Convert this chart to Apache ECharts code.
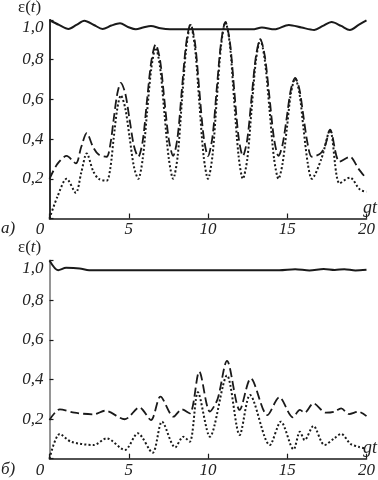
<!DOCTYPE html>
<html><head><meta charset="utf-8">
<script src="https://cdn.jsdelivr.net/npm/echarts@6/dist/echarts.min.js"></script>
<style>html,body{margin:0;padding:0;background:#fff}#c{width:378px;height:480px}</style>
</head><body><div id="c"></div>
<script>
const xTicks = [0, 5, 10, 15, 20];
const yTicks = [0, 0.2, 0.4, 0.6, 0.8, 1.0];
const panelLabels = ['a)', 'б)'];

// panel a
const aSolid = [[0,1.0],[0.6,0.975],[1.2,0.955],[1.7,0.975],[2.2,0.996],[2.8,0.975],[3.35,0.955],[3.9,0.972],[4.45,0.983],[4.95,0.965],[5.45,0.953],[5.9,0.962],[6.4,0.97],[7.0,0.958],[7.6,0.953],[10,0.953],[12.8,0.953],[13.4,0.962],[14.2,0.953],[15.1,0.975],[15.9,0.962],[16.7,0.95],[17.25,0.97],[17.8,0.99],[18.4,0.97],[18.95,0.95],[19.5,0.975],[20,0.998]];
const aDash = [[0,0.20],[0.5,0.275],[1.08,0.315],[1.66,0.278],[2.0,0.36],[2.35,0.43],[2.75,0.36],[3.1,0.322],[3.6,0.311],
  [3.83,0.37],[4.05,0.5],[4.28,0.63],[4.5,0.683],[4.78,0.63],[5.05,0.5],[5.33,0.365],[5.6,0.311],
  [5.88,0.39],[6.15,0.594],[6.43,0.795],[6.7,0.877],[6.98,0.795],[7.25,0.596],[7.53,0.397],[7.8,0.315],
  [8.08,0.41],[8.35,0.648],[8.63,0.885],[8.9,0.98],[9.18,0.885],[9.45,0.648],[9.73,0.41],[10.0,0.315],
  [10.28,0.41],[10.55,0.652],[10.83,0.89],[11.1,0.99],[11.38,0.89],[11.65,0.652],[11.93,0.41],[12.2,0.315],
  [12.48,0.40],[12.75,0.61],[13.03,0.82],[13.3,0.904],[13.58,0.82],[13.88,0.61],[14.17,0.40],[14.45,0.315],
  [14.7,0.37],[14.97,0.51],[15.23,0.65],[15.5,0.708],[15.77,0.65],[16.03,0.51],[16.3,0.37],[16.55,0.311],
  [17.1,0.328],[17.4,0.37],[17.7,0.448],[18.3,0.286],[18.95,0.311],[19.5,0.25],[20,0.2]];
const aDot = [[0,0.0],[0.5,0.11],[1.08,0.2],[1.66,0.13],[2.0,0.23],[2.35,0.328],[2.75,0.24],[3.1,0.2],[3.6,0.19],
  [3.83,0.25],[4.05,0.405],[4.28,0.555],[4.5,0.62],[4.78,0.555],[5.05,0.41],[5.33,0.26],[5.6,0.2],
  [5.88,0.30],[6.15,0.53],[6.43,0.76],[6.7,0.86],[6.98,0.76],[7.25,0.53],[7.53,0.30],[7.8,0.2],
  [8.08,0.31],[8.35,0.588],[8.63,0.86],[8.9,0.975],[9.18,0.86],[9.45,0.588],[9.73,0.31],[10.0,0.2],
  [10.28,0.315],[10.55,0.595],[10.83,0.875],[11.1,0.99],[11.38,0.875],[11.65,0.595],[11.93,0.315],[12.2,0.2],
  [12.48,0.30],[12.75,0.55],[13.03,0.80],[13.3,0.9],[13.58,0.80],[13.88,0.55],[14.17,0.30],[14.45,0.2],
  [14.7,0.275],[14.97,0.45],[15.23,0.63],[15.5,0.705],[15.77,0.63],[16.03,0.45],[16.3,0.275],[16.55,0.2],
  [17.15,0.3],[17.7,0.445],[18.3,0.177],[18.95,0.206],[19.6,0.144],[20,0.135]];

// panel б
const bSolid = [[0,1.0],[0.55,0.951],[1.05,0.963],[1.9,0.96],[2.5,0.951],[8,0.951],[14.5,0.951],[15.5,0.956],[16.4,0.95],[17.3,0.957],[18,0.952],[18.6,0.956],[19.3,0.95],[20,0.953]];
const bDash = [[0,0.195],[0.65,0.249],[1.57,0.232],[2.8,0.224],[3.5,0.242],[4.75,0.199],[5.67,0.259],[6.4,0.195],[7.0,0.313],[7.83,0.212],[8.34,0.249],[8.85,0.229],[9.45,0.439],[10.12,0.238],[10.6,0.3],[11.2,0.494],[12.0,0.246],[12.7,0.405],[13.75,0.22],[14.5,0.31],[15.35,0.209],[15.8,0.246],[16.1,0.232],[16.65,0.279],[17.45,0.232],[17.97,0.237],[18.4,0.254],[18.9,0.225],[19.5,0.237],[20,0.215]];
const bDot = [[0,0],[0.65,0.125],[1.35,0.086],[2.8,0.069],[3.6,0.103],[4.75,0.044],[5.57,0.128],[6.5,0.03],[7.1,0.187],[7.93,0.057],[8.44,0.111],[8.85,0.086],[9.36,0.335],[10.12,0.111],[11.2,0.42],[12.0,0.12],[12.65,0.321],[13.9,0.069],[14.6,0.187],[15.4,0.047],[15.8,0.136],[16.1,0.094],[16.65,0.165],[17.35,0.069],[17.97,0.103],[18.4,0.125],[19.0,0.074],[19.5,0.06],[20,0.05]];

const FONT = '"Liberation Serif", serif';
const ink = '#1a1a1a';
const FS = 17;

function xAxis(idx) {
  return {
    type: 'value', gridIndex: idx, min: xTicks[0], max: xTicks[xTicks.length-1], interval: 5,
    axisLine: {lineStyle: {color: ink, width: 1.6}},
    axisTick: {inside: true, length: 5, lineStyle: {color: ink, width: 1.2}},
    splitLine: {show: false},
    axisLabel: {
      margin: 3, color: '#222', fontFamily: FONT, fontStyle: 'italic', fontSize: FS,
      formatter: v => v === 0 ? '{z|0}' : String(v),
      rich: {z: {fontFamily: FONT, fontStyle: 'italic', fontSize: FS, color: '#222', padding: [0, 19, 0, 0]}}
    }
  };
}
function yAxis(idx, color) {
  return {
    type: 'value', gridIndex: idx, min: yTicks[0], max: yTicks[yTicks.length-1], interval: 0.2,
    axisLine: {show: true, lineStyle: {color: color, width: 1.8}},
    axisTick: {show: true, inside: true, length: 4, lineStyle: {color: ink, width: 1.2}},
    splitLine: {show: false},
    axisLabel: {
      margin: 6, color: '#222', fontFamily: FONT, fontStyle: 'italic', fontSize: FS,
      formatter: v => {
        if (v === 0) return '';
        const s = v.toFixed(1).replace('.', ',');
        return v === 1 ? '{t|' + s + '}' : s;
      },
      rich: {t: {fontFamily: FONT, fontStyle: 'italic', fontSize: FS, color: '#222', padding: [16, 0, 0, 0]}}
    }
  };
}
function line(data, idx, type, width) {
  const ls = {color: ink, width: width};
  if (type === 'dashed') { ls.type = [9, 4]; }
  if (type === 'dotted') { ls.type = [2, 2.2]; }
  return {type: 'line', xAxisIndex: idx, yAxisIndex: idx, data: data, showSymbol: false, symbol: 'none',
          smooth: 0.3, clip: false, lineStyle: ls, silent: true};
}
function txt(x, y, text, align, rich, size) {
  const style = {text: text, x: 0, y: 0, fill: '#222', align: align || 'left', verticalAlign: 'middle',
                 font: 'italic ' + (size || FS) + 'px ' + FONT};
  if (rich) style.rich = rich;
  return {type: 'text', x: x, y: y, style: style};
}
const epsRich = {u: {fontFamily: FONT, fontSize: 17, color: '#222'}, i: {fontFamily: FONT, fontStyle: 'italic', fontSize: 17, color: '#222'}};

const chart = echarts.init(document.getElementById('c'), null, {renderer: 'canvas'});
chart.setOption({
  animation: false,
  backgroundColor: '#fff',
  grid: [
    {left: 49.5, right: 3, top: 20, height: 198.5},
    {left: 49.5, right: 3, top: 260.5, height: 198.2}
  ],
  xAxis: [xAxis(0), xAxis(1)],
  yAxis: [yAxis(0, ink), yAxis(1, '#8a8a8a')],
  series: [
    line(aSolid, 0, 'solid', 2),
    line(aDash, 0, 'dashed', 1.8),
    line(aDot, 0, 'dotted', 2),
    line(bSolid, 1, 'solid', 2),
    line(bDash, 1, 'dashed', 1.8),
    line(bDot, 1, 'dotted', 2)
  ],
  graphic: [
    txt(18, 8, '{u|ε(}{i|t}{u|)}', 'left', epsRich),
    txt(18, 248, '{u|ε(}{i|t}{u|)}', 'left', epsRich),
    txt(1, 229, panelLabels[0]),
    txt(1, 470, panelLabels[1]),
    txt(377, 208, 'gt', 'right', null, 18),
    txt(377, 448, 'gt', 'right', null, 18)
  ]
});
</script></body></html>
